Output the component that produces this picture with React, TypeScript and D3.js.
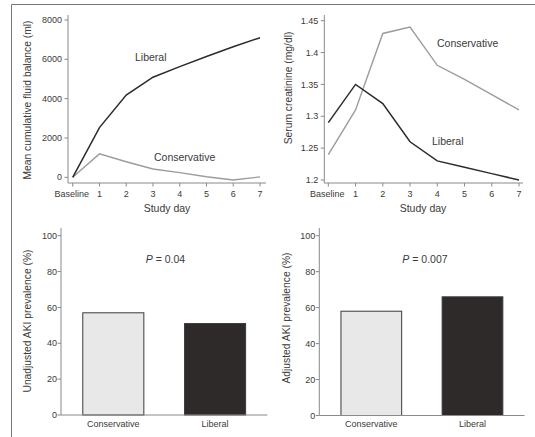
import React from "react";
import * as d3 from "d3";

const days = [0, 1, 2, 3, 4, 5, 6, 7];
const dayLabels = ["Baseline", "1", "2", "3", "4", "5", "6", "7"];
const fluidLiberal = [0, 2530, 4180, 5090, 5630, 6140, 6640, 7100];
const fluidConservative = [0, 1190, 790, 420, 240, 30, -140, 20];
const fluidTicks = [0, 2000, 4000, 6000, 8000];
const creatLiberal = [1.29, 1.35, 1.32, 1.26, 1.23, 1.22, 1.21, 1.2];
const creatConservative = [1.24, 1.31, 1.43, 1.44, 1.38, 1.358, 1.334, 1.31];
const creatTicks = [1.2, 1.25, 1.3, 1.35, 1.4, 1.45];
const groups = ["Conservative", "Liberal"];
const unadjustedAKI = [57, 51];
const adjustedAKI = [58, 66];
const pctTicks = [0, 20, 40, 60, 80, 100];

const FONT = "Liberation Sans, Arial, sans-serif";
const AXIS = "#8a8a8a";
const TXT = "#3a3a3a";
const DARK = "#2e2a2a";
const LIGHT = "#9c9c9c";

type LineProps = {
  x0: number; x1: number; yTop: number; yBot: number;
  axisX: number; axisY: number; axisEnd: number; axisTop: number;
  domain: [number, number]; ticks: number[]; fmt: (v: number) => string;
  s1: number[]; s2: number[]; title: string; titleX: number; titleY: number;
  xTitleX: number;
  lab1: { t: string; x: number; y: number }; lab2: { t: string; x: number; y: number };
};

function LinePanel(p: LineProps) {
  const x = d3.scaleLinear().domain([0, 7]).range([p.x0, p.x1]);
  const y = d3.scaleLinear().domain(p.domain).range([p.yBot, p.yTop]);
  const line = d3.line<number>().x((_, i) => x(days[i])).y((v) => y(v));
  return (
    <g>
      <line x1={p.axisX} x2={p.axisX} y1={p.axisTop} y2={p.axisY} stroke={AXIS} strokeWidth={1} />
      <line x1={p.axisX} x2={p.axisEnd} y1={p.axisY} y2={p.axisY} stroke={AXIS} strokeWidth={1} />
      {p.ticks.map((t) => (
        <g key={t}>
          <line x1={p.axisX - 3.5} x2={p.axisX} y1={y(t)} y2={y(t)} stroke={AXIS} />
          <text x={p.axisX - 6} y={y(t)} dy="0.35em" textAnchor="end" fontSize={9} fill={TXT}>{p.fmt(t)}</text>
        </g>
      ))}
      {days.map((d, i) => (
        <g key={d}>
          <line x1={x(d)} x2={x(d)} y1={p.axisY} y2={p.axisY + 3.5} stroke={AXIS} />
          <text x={i === 0 ? x(d) - 1 : x(d)} y={p.axisY + 11} dy="0.35em" textAnchor="middle" fontSize={9} fill={TXT}>{dayLabels[i]}</text>
        </g>
      ))}
      <text x={p.xTitleX} y={208} dy="0.35em" textAnchor="middle" fontSize={10.5} fill={TXT}>Study day</text>
      <text transform={`translate(${p.titleX},${p.titleY}) rotate(-90)`} dy="0.35em" textAnchor="middle" fontSize={10.3} fill={TXT}>{p.title}</text>
      <path d={line(p.s2) || ""} fill="none" stroke={LIGHT} strokeWidth={1.4} />
      <path d={line(p.s1) || ""} fill="none" stroke={DARK} strokeWidth={1.5} />
      <text x={p.lab1.x} y={p.lab1.y} dy="0.35em" fontSize={10.5} fill={TXT}>{p.lab1.t}</text>
      <text x={p.lab2.x} y={p.lab2.y} dy="0.35em" fontSize={10.5} fill={TXT}>{p.lab2.t}</text>
    </g>
  );
}

type BarProps = {
  axisX: number; axisEnd: number; yTop: number; yBot: number; axisTop: number;
  values: number[]; title: string; titleX: number; titleY: number;
  pText: string; pX: number;
};

function BarPanel(p: BarProps) {
  const x = d3.scaleBand<string>().domain(groups).range([p.axisX, p.axisEnd]).paddingInner(0.4).paddingOuter(0.214);
  const y = d3.scaleLinear().domain([0, 100]).range([p.yBot, p.yTop]);
  const fills = ["#e8e8e8", DARK];
  return (
    <g>
      {groups.map((g, i) => (
        <rect key={g} x={x(g)} y={y(p.values[i])} width={x.bandwidth()} height={y(0) - y(p.values[i])}
          fill={fills[i]} stroke="#3a3a3a" strokeWidth={1} />
      ))}
      <line x1={p.axisX} x2={p.axisX} y1={p.axisTop} y2={p.yBot} stroke={AXIS} />
      <line x1={p.axisX} x2={p.axisEnd} y1={p.yBot} y2={p.yBot} stroke={AXIS} strokeWidth={1.2} />
      {pctTicks.map((t) => (
        <g key={t}>
          <line x1={p.axisX - 3.5} x2={p.axisX} y1={y(t)} y2={y(t)} stroke={AXIS} />
          <text x={p.axisX - 4} y={y(t)} dy="0.35em" textAnchor="end" fontSize={9} fill={TXT}>{t}</text>
        </g>
      ))}
      {groups.map((g) => (
        <text key={g} x={(x(g) as number) + x.bandwidth() / 2} y={424} dy="0.35em" textAnchor="middle" fontSize={9} fill={TXT}>{g}</text>
      ))}
      <text x={p.pX} y={259.5} dy="0.35em" textAnchor="middle" fontSize={10.5} fill={TXT}>
        <tspan fontStyle="italic">P</tspan>
        <tspan> = {p.pText}</tspan>
      </text>
      <text transform={`translate(${p.titleX},${p.titleY}) rotate(-90)`} dy="0.35em" textAnchor="middle" fontSize={10.3} fill={TXT}>{p.title}</text>
    </g>
  );
}

export default function App() {
  return (
    <svg width={535} height={437} style={{ position: "absolute", left: 0, top: 0, background: "#fff" }} fontFamily={FONT}>
      <rect x={0} y={0} width={535} height={437} fill="#fff" />
      <line x1={11.5} x2={535} y1={4.5} y2={4.5} stroke="#777" strokeWidth={1} />
      <line x1={11.5} x2={11.5} y1={4.5} y2={437} stroke="#777" strokeWidth={1} />
      <LinePanel
        x0={72.7} x1={260} yTop={20} yBot={177.3}
        axisX={68} axisY={183} axisEnd={266} axisTop={15}
        domain={[0, 8000]} ticks={fluidTicks} fmt={(v) => String(v)}
        s1={fluidLiberal} s2={fluidConservative}
        title="Mean cumulative fluid balance (ml)" titleX={27} titleY={100}
        xTitleX={167}
        lab1={{ t: "Liberal", x: 135, y: 57 }}
        lab2={{ t: "Conservative", x: 154, y: 157 }}
      />
      <LinePanel
        x0={328.3} x1={519} yTop={20.7} yBot={180}
        axisX={324.3} axisY={183} axisEnd={523} axisTop={15}
        domain={[1.2, 1.45]} ticks={creatTicks} fmt={(v) => String(+v.toFixed(2))}
        s1={creatLiberal} s2={creatConservative}
        title="Serum creatinine (mg/dl)" titleX={288.5} titleY={88}
        xTitleX={423}
        lab1={{ t: "Liberal", x: 432, y: 141.7 }}
        lab2={{ t: "Conservative", x: 437, y: 43 }}
      />
      <BarPanel
        axisX={61} axisEnd={267.4} yTop={235.7} yBot={415} axisTop={228}
        values={unadjustedAKI} title="Unadjusted AKI prevalence (%)" titleX={27} titleY={321}
        pText="0.04" pX={165.5}
      />
      <BarPanel
        axisX={319.3} axisEnd={524.5} yTop={235.7} yBot={415.5} axisTop={228}
        values={adjustedAKI} title="Adjusted AKI prevalence (%)" titleX={286.7} titleY={318}
        pText="0.007" pX={425}
      />
    </svg>
  );
}
